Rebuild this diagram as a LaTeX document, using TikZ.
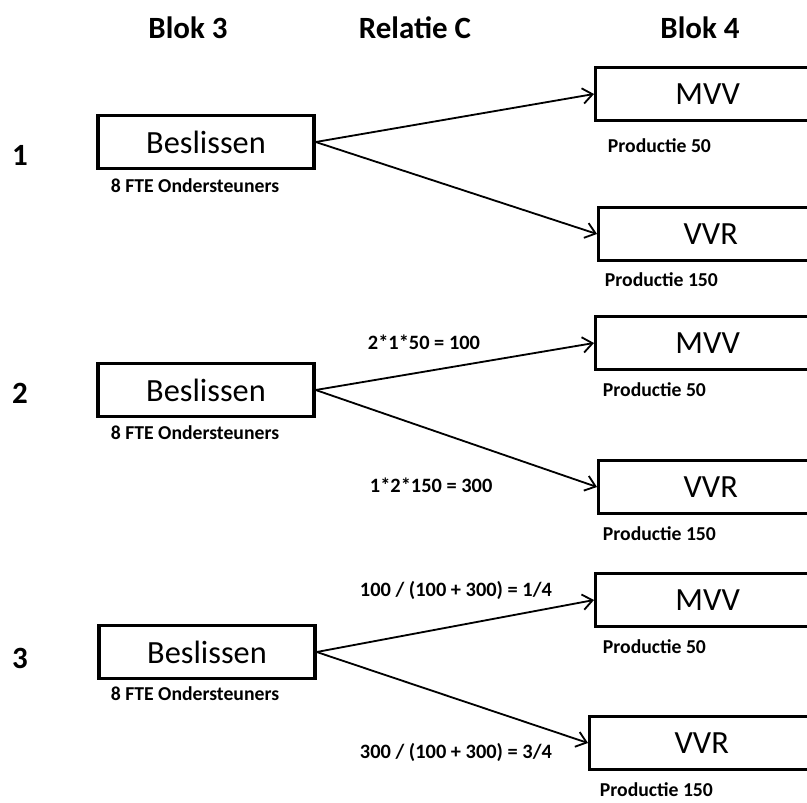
\documentclass[tikz,border=0pt]{standalone}
\usepackage{fontspec}
\setmainfont{Carlito}
\usetikzlibrary{arrows.meta}

\tikzset{
  kop/.style={font=\bfseries\fontsize{22}{26}\selectfont},
  blok/.style={draw, line width=2.4pt, minimum width=5.4cm, minimum height=1.33cm,
    font=\fontsize{23}{26}\selectfont},
  doel/.style={blok, anchor=west, minimum width=5.6cm},
  klein/.style={anchor=west, font=\bfseries\fontsize{14}{16}\selectfont},
  reken/.style={anchor=west, font=\bfseries\fontsize{14.5}{17}\selectfont},
  pijl/.style={line width=1.3pt, -{Straight Barb[length=7pt,width=11pt]}},
}

\begin{document}
\begin{tikzpicture}[x=0.025cm, y=-0.025cm]
  \useasboundingbox (0,0) rectangle (807,802);

  \node[kop] (kop3) at (188,28) {Blok 3};
  \node[kop] (kopC) at (415,28) {Relatie C};
  \node[kop] (kop4) at (700,28) {Blok 4};

  \node[kop] (r1) at (20,155) {1};
  \node[kop] (r2) at (20,393) {2};
  \node[kop] (r3) at (20,658) {3};

  % rij 1
  \node[blok] (b1) at (206,142) {Beslissen};
  \node[klein] (f1) at (106,186) {8 FTE Ondersteuners};
  \node[doel] (m1) at (594,94) {MVV};
  \node[doel] (v1) at (597,234) {VVR};
  \node[klein] (p1) at (603,146) {Productie 50};
  \node[klein] (q1) at (600,280) {Productie 150};
  \draw[pijl] (b1.east) -- (m1.west);
  \draw[pijl] (b1.east) -- (v1.west);

  % rij 2
  \node[blok] (b2) at (206,390) {Beslissen};
  \node[klein] (f2) at (106,433) {8 FTE Ondersteuners};
  \node[doel] (m2) at (594,343) {MVV};
  \node[doel] (v2) at (597,487) {VVR};
  \node[klein] (p2) at (598,390) {Productie 50};
  \node[klein] (q2) at (598,534) {Productie 150};
  \node[reken] (t2) at (363,342) {2*1*50 = 100};
  \node[reken] (u2) at (365,485) {1*2*150 = 300};
  \draw[pijl] (b2.east) -- (m2.west);
  \draw[pijl] (b2.east) -- (v2.west);

  % rij 3
  \node[blok] (b3) at (207,652) {Beslissen};
  \node[klein] (f3) at (106,694) {8 FTE Ondersteuners};
  \node[doel] (m3) at (594,600) {MVV};
  \node[doel] (v3) at (588,743) {VVR};
  \node[klein] (p3) at (598,647) {Productie 50};
  \node[klein] (q3) at (595,790) {Productie 150};
  \node[reken] (t3) at (355,590) {100 / (100 + 300) = 1/4};
  \node[reken] (u3) at (355,752) {300 / (100 + 300) = 3/4};
  \draw[pijl] (b3.east) -- (m3.west);
  \draw[pijl] (b3.east) -- (v3.west);
\end{tikzpicture}
\end{document}
